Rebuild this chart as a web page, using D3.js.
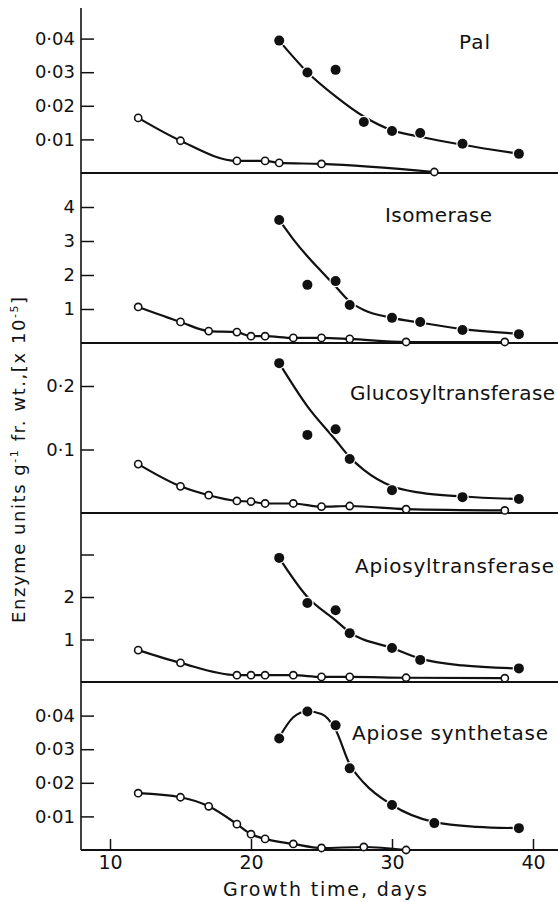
<!DOCTYPE html>
<html>
<head>
<meta charset="utf-8">
<script src="https://cdn.jsdelivr.net/npm/d3@7"></script>
<style>
  body { margin: 0; background: #fff; }
  svg { display: block; }
  text { font-family: "DejaVu Sans", sans-serif; fill: #111; }
</style>
</head>
<body>
<svg id="view" width="558" height="902"></svg>
<script>
// panel titles
const panelNames = ['Pal', 'Isomerase', 'Glucosyltransferase', 'Apiosyltransferase', 'Apiose synthetase'];

// Pal
const palDays = [22, 24, 26, 28, 30, 32, 35, 39];
const palFilled = [0.0394, 0.0299, 0.0307, 0.0152, 0.0125, 0.0119, 0.0087, 0.0057];
const palOpenDays = [12, 15, 19, 21, 22, 25, 33];
const palOpen = [0.0164, 0.0096, 0.0036, 0.0036, 0.0030, 0.0027, 0.0003];
const palFitDays = [22, 24, 26, 28, 30, 32, 35, 39];
const palFit = [0.0394, 0.0300, 0.0228, 0.0168, 0.0127, 0.0108, 0.0084, 0.0057];

// Isomerase
const isoDays = [22, 24, 26, 27, 30, 32, 35, 39];
const isoFilled = [3.62, 1.71, 1.82, 1.12, 0.74, 0.62, 0.38, 0.26];
const isoOpenDays = [12, 15, 17, 19, 20, 21, 23, 25, 27, 31, 38];
const isoOpen = [1.06, 0.62, 0.35, 0.32, 0.20, 0.20, 0.15, 0.15, 0.12, 0.03, 0.03];
const isoFitDays = [22, 23, 24, 25, 26, 27, 28, 30, 32, 35, 39];
const isoFit = [3.62, 3.05, 2.55, 2.10, 1.66, 1.22, 0.97, 0.74, 0.60, 0.41, 0.27];

// Glucosyltransferase
const glcDays = [22, 24, 26, 27, 30, 35, 39];
const glcFilled = [0.236, 0.123, 0.132, 0.085, 0.036, 0.025, 0.022];
const glcOpenDays = [12, 15, 17, 19, 20, 21, 23, 25, 27, 31, 38];
const glcOpen = [0.077, 0.042, 0.028, 0.019, 0.018, 0.015, 0.015, 0.010, 0.011, 0.006, 0.004];
const glcFitDays = [22, 24, 26, 27, 28, 30, 32, 35, 39];
const glcFit = [0.236, 0.168, 0.115, 0.088, 0.068, 0.042, 0.032, 0.026, 0.022];

// Apiosyltransferase
const apsDays = [22, 24, 26, 27, 30, 32, 39];
const apsFilled = [2.92, 1.86, 1.69, 1.15, 0.80, 0.52, 0.32];
const apsOpenDays = [12, 15, 19, 20, 21, 23, 25, 27, 31, 38];
const apsOpen = [0.75, 0.45, 0.16, 0.16, 0.16, 0.16, 0.12, 0.12, 0.10, 0.09];
const apsFitDays = [22, 24, 26, 27, 30, 32, 35, 39];
const apsFit = [2.92, 2.00, 1.45, 1.17, 0.80, 0.55, 0.39, 0.32];

// Apiose synthetase
const synDays = [22, 24, 26, 27, 30, 33, 39];
const synFilled = [0.0332, 0.0412, 0.0371, 0.0243, 0.0134, 0.0080, 0.0065];
const synOpenDays = [12, 15, 17, 19, 20, 21, 23, 25, 28, 31];
const synOpen = [0.0169, 0.0157, 0.0130, 0.0077, 0.0047, 0.0033, 0.0018, 0.0006, 0.0009, 0.0000];
const synFitDays = [22, 23, 24, 25, 26, 27, 28, 30, 33, 36, 39];
const synFit = [0.0335, 0.0395, 0.0413, 0.0405, 0.0358, 0.0255, 0.0200, 0.0134, 0.0083, 0.0069, 0.0065];

// axis ticks
const xTicks = [10, 20, 30, 40];
const yTicks = [
    [0.01, 0.02, 0.03, 0.04],
    [1, 2, 3, 4],
    [0.1, 0.2],
    [1, 2, 3],
    [0.01, 0.02, 0.03, 0.04]
];
const yTickLabels = [
    ['0·01', '0·02', '0·03', '0·04'],
    ['1', '2', '3', '4'],
    ['0·1', '0·2'],
    ['1', '2', ''],
    ['0·01', '0·02', '0·03', '0·04']
];
const yMax = [0.05, 5, 0.25, 4, 0.05];

const series = [
    {filled: d3.zip(palDays, palFilled), open: d3.zip(palOpenDays, palOpen), fit: d3.zip(palFitDays, palFit)},
    {filled: d3.zip(isoDays, isoFilled), open: d3.zip(isoOpenDays, isoOpen), fit: d3.zip(isoFitDays, isoFit)},
    {filled: d3.zip(glcDays, glcFilled), open: d3.zip(glcOpenDays, glcOpen), fit: d3.zip(glcFitDays, glcFit)},
    {filled: d3.zip(apsDays, apsFilled), open: d3.zip(apsOpenDays, apsOpen), fit: d3.zip(apsFitDays, apsFit)},
    {filled: d3.zip(synDays, synFilled), open: d3.zip(synOpenDays, synOpen), fit: d3.zip(synFitDays, synFit)}
];

// layout
const LEFT = 81, RIGHT = 558, TOP = 8;
const baselines = [173, 343, 513, 682, 850];
const panelH = 170;
const titlePos = [[459, 49, 31], [385, 222, 107], [350, 400, 205], [355, 573, 199], [352, 740, 196]];

var view = d3.select('#view');
var x = d3.scaleLinear().domain([10, 40]).range([110, 533]);

// left axis line
view.append('line')
    .attr('x1', LEFT).attr('x2', LEFT)
    .attr('y1', TOP).attr('y2', baselines[4])
    .attr('stroke', '#111').attr('stroke-width', 1.6);

series.forEach(function(s, i) {
    var base = baselines[i];
    var y = d3.scaleLinear().domain([0, yMax[i]]).range([base, base - yMax[i] * (i == 0 || i == 4 ? 3360 : i == 1 ? 34 : i == 2 ? 635 : 42.5)]);
    var g = view.append('g');

    // baseline
    g.append('line')
        .attr('x1', LEFT).attr('x2', RIGHT)
        .attr('y1', base).attr('y2', base)
        .attr('stroke', '#111').attr('stroke-width', 2);

    var ax = g.append('g')
        .attr('transform', 'translate(' + LEFT + ',0)')
        .call(d3.axisLeft(y).tickValues(yTicks[i])
            .tickFormat((d, k) => yTickLabels[i][k])
            .tickSizeInner(-13).tickSizeOuter(0).tickPadding(6));
    ax.select('.domain').remove();
    ax.selectAll('line').attr('stroke', '#111').attr('stroke-width', 1.5);
    ax.selectAll('text').attr('font-size', 18).attr('font-family', '"DejaVu Sans", sans-serif').attr('fill', '#111');

    var line = d3.line().x(d => x(d[0])).y(d => y(d[1])).curve(d3.curveMonotoneX);

    g.append('path').datum(s.fit)
        .attr('d', line)
        .attr('fill', 'none').attr('stroke', '#111').attr('stroke-width', 2.2);
    g.append('path').datum(s.open)
        .attr('d', line)
        .attr('fill', 'none').attr('stroke', '#111').attr('stroke-width', 2.2);

    g.selectAll('circle.filled').data(s.filled).enter().append('circle')
        .attr('class', 'filled')
        .attr('cx', d => x(d[0])).attr('cy', d => y(d[1]))
        .attr('r', 5)
        .attr('fill', '#111').attr('stroke', '#fff').attr('stroke-width', 2.5)
        .attr('paint-order', 'stroke');
    g.selectAll('circle.open').data(s.open).enter().append('circle')
        .attr('class', 'open')
        .attr('cx', d => x(d[0])).attr('cy', d => y(d[1]))
        .attr('r', 3.6)
        .attr('fill', '#fff').attr('stroke', '#111').attr('stroke-width', 1.6);

    var tp = titlePos[i];
    g.append('text')
        .attr('x', tp[0]).attr('y', tp[1])
        .attr('font-size', 20)
        .attr('textLength', tp[2]).attr('lengthAdjust', 'spacing')
        .text(panelNames[i]);
});

// x axis
var xa = view.append('g')
    .attr('transform', 'translate(0,' + baselines[4] + ')')
    .call(d3.axisBottom(x).tickValues(xTicks).tickSizeInner(-11).tickSizeOuter(0).tickPadding(6));
xa.select('.domain').remove();
xa.selectAll('line').attr('stroke', '#111').attr('stroke-width', 1.5);
xa.selectAll('text').attr('font-size', 19).attr('font-family', '"DejaVu Sans", sans-serif').attr('fill', '#111');

view.append('text')
    .attr('x', 325).attr('y', 896)
    .attr('text-anchor', 'middle')
    .attr('font-size', 19)
    .attr('textLength', 204).attr('lengthAdjust', 'spacing')
    .text('Growth time, days');

// y label
var yl = view.append('text')
    .attr('transform', 'translate(25,460) rotate(-90)')
    .attr('text-anchor', 'middle')
    .attr('font-size', 18)
    .attr('textLength', 326).attr('lengthAdjust', 'spacing');
yl.append('tspan').text('Enzyme units  g');
yl.append('tspan').attr('dy', -7).attr('font-size', 11).text('-1');
yl.append('tspan').attr('dy', 7).text(' fr. wt.,[x 10');
yl.append('tspan').attr('dy', -7).attr('font-size', 11).text('-5');
yl.append('tspan').attr('dy', 7).text(']');
</script>
</body>
</html>
